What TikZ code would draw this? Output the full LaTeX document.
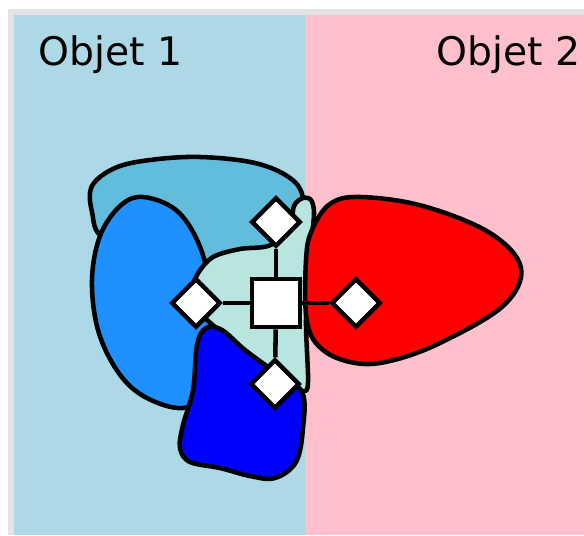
\documentclass[tikz,border=0pt]{standalone}
\usepackage{fontspec}
\setmainfont{DejaVu Sans}
\usetikzlibrary{shapes.geometric}
\definecolor{objone}{HTML}{ADD8E6}
\definecolor{objtwo}{HTML}{FFC0CB}
\definecolor{framegray}{HTML}{E3E3E3}
\definecolor{skyblob}{HTML}{62BCDB}
\definecolor{turqblob}{HTML}{B9E5E1}
\definecolor{dodgerblob}{HTML}{1E90FF}

\begin{document}
\begin{tikzpicture}[
    x=0.75pt, y=-0.75pt,
    blob/.style={draw, line width=3.4pt, line join=round},
    port/.style={diamond, draw, fill=white, line width=3.4pt, minimum width=37pt, minimum height=37pt, inner sep=0pt},
    core/.style={rectangle, draw, fill=white, line width=3.4pt, minimum size=36pt, inner sep=0pt},
    link/.style={line width=3.4pt},
    objtitle/.style={font=\fontsize{29.5}{34}\selectfont, inner sep=0pt},
]
\useasboundingbox (0,0) rectangle (584,535);
\fill[white] (0,0) rectangle (584,535);
\fill[framegray] (8,9) rectangle (584,535);
\fill[objone] (14,15) rectangle (305,535);
\fill[objtwo] (305,15) rectangle (584,535);

\node[objtitle, anchor=base west] (obj1) at (38,65) {Objet 1};
\node[objtitle, anchor=base east] (obj2) at (581,65) {Objet 2};

% the five regions
\draw[blob, fill=skyblob] plot[smooth cycle, tension=0.6] coordinates {
  (104,238) (92,212) (92,186) (115,168) (150,160) (200,157) (255,163) (290,178)
  (303,198) (300,232) (260,250) (215,262) (160,250)};
\draw[blob, fill=dodgerblob] plot[smooth cycle, tension=0.6] coordinates {
  (143,197) (176,210) (198,242) (210,285) (214,335) (208,390) (183,408)
  (145,397) (118,372) (98,330) (92,280) (100,236) (120,206)};
\draw[blob, fill=turqblob] plot[smooth cycle, tension=0.5] coordinates {
  (197,275) (213,257) (240,249) (268,246) (289,232) (294,206) (303,198)
  (311,200) (314,214) (310,255) (306,320) (308,382) (302,391) (272,381)
  (232,342) (205,318) (190,300)};
\draw[blob, fill=blue] plot[smooth cycle, tension=0.6] coordinates {
  (206,328) (222,330) (245,350) (275,372) (302,392) (303,428) (296,462)
  (275,478) (250,476) (220,468) (190,462) (180,448) (183,425) (193,390)
  (197,345)};
\draw[blob, fill=red] plot[smooth cycle, tension=0.6] coordinates {
  (306,260) (312,230) (330,204) (360,197) (423,206) (490,233) (521,268)
  (503,306) (440,343) (390,361) (355,363) (323,350) (307,322)};

% centre and ports
\node[core] (centre) at (276,303) {};
\node[port] (ptop) at (276,222) {};
\node[port] (pleft) at (196,303) {};
\node[port] (pright) at (356,303) {};
\node[port] (pbottom) at (275,384) {};

\draw[link] (centre) -- (ptop);
\draw[link] (centre) -- (pleft);
\draw[link] (centre) -- (pright);
\draw[link] (centre) -- (pbottom);
\end{tikzpicture}
\end{document}
